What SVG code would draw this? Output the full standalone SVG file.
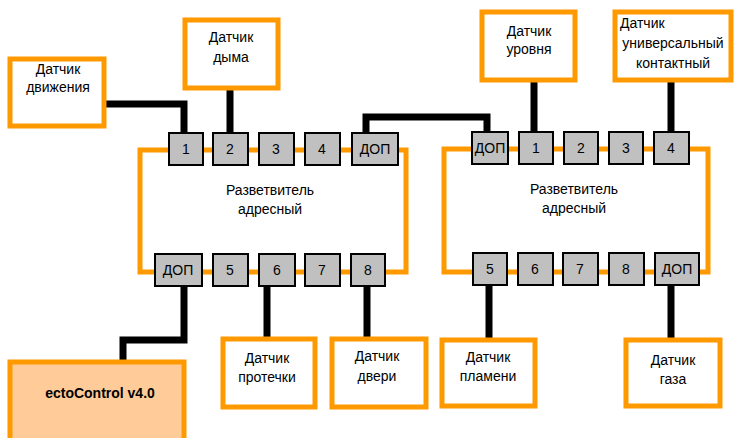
<svg xmlns="http://www.w3.org/2000/svg" width="734" height="438" viewBox="0 0 734 438">
<style>
.sensor{fill:#fff;stroke:#FF9900;stroke-width:5}
.ecto{fill:#FFCC99;stroke:#FF9900;stroke-width:5}
.bus{fill:none;stroke:#FF9900;stroke-width:5}
.port{fill:#C0C0C0;stroke:#000;stroke-width:2}
.wire{fill:none;stroke:#000;stroke-width:7;stroke-linejoin:miter}
text{font-family:"Liberation Sans","Open Sans",sans-serif;font-size:14px;fill:#000;text-anchor:middle}
.b{font-weight:bold;font-size:14px}
</style>
<rect width="734" height="438" fill="#fff"/>
<g id="splitter-left">
<rect class="bus" x="140" y="150" width="266" height="122"/>
<text x="270" y="195">Разветвитель</text>
<text x="270" y="214">адресный</text>
<rect class="port" x="169" y="133" width="34" height="32"/><text x="186" y="154">1</text>
<rect class="port" x="213" y="133" width="35" height="32"/><text x="230" y="154">2</text>
<rect class="port" x="259" y="133" width="35" height="32"/><text x="276" y="154">3</text>
<rect class="port" x="305" y="133" width="35" height="32"/><text x="322" y="154">4</text>
<rect class="port" x="352" y="133" width="46" height="32"/><text x="375" y="154">ДОП</text>
<rect class="port" x="155" y="254" width="47" height="32"/><text x="178" y="275">ДОП</text>
<rect class="port" x="213" y="254" width="35" height="32"/><text x="230" y="275">5</text>
<rect class="port" x="259" y="254" width="36" height="32"/><text x="277" y="275">6</text>
<rect class="port" x="305" y="254" width="35" height="32"/><text x="322" y="275">7</text>
<rect class="port" x="351" y="254" width="34" height="32"/><text x="368" y="275">8</text>
</g>
<g id="splitter-right">
<rect class="bus" x="444" y="149" width="264" height="123"/>
<text x="574" y="194">Разветвитель</text>
<text x="574" y="213">адресный</text>
<rect class="port" x="472" y="132" width="36" height="32"/><text x="490" y="153">ДОП</text>
<rect class="port" x="519" y="132" width="34" height="32"/><text x="536" y="153">1</text>
<rect class="port" x="564" y="132" width="34" height="32"/><text x="581" y="153">2</text>
<rect class="port" x="609" y="132" width="34" height="32"/><text x="626" y="153">3</text>
<rect class="port" x="654" y="132" width="35" height="32"/><text x="671" y="153">4</text>
<rect class="port" x="473" y="253" width="34" height="32"/><text x="490" y="274">5</text>
<rect class="port" x="518" y="253" width="35" height="32"/><text x="535" y="274">6</text>
<rect class="port" x="563" y="253" width="35" height="32"/><text x="580" y="274">7</text>
<rect class="port" x="609" y="253" width="35" height="32"/><text x="626" y="274">8</text>
<rect class="port" x="655" y="253" width="44" height="32"/><text x="677" y="274">ДОП</text>
</g>
<g id="connectors">
<path class="wire" d="M104,104 H184 V133"/>
<path class="wire" d="M230,88 V133"/>
<path class="wire" d="M366,133 V117 H487 V132"/>
<path class="wire" d="M534,80 V132"/>
<path class="wire" d="M671,80 V132"/>
<path class="wire" d="M489,285 V340"/>
<path class="wire" d="M671,285 V340"/>
<path class="wire" d="M267,286 V339"/>
<path class="wire" d="M367,286 V339"/>
<path class="wire" d="M184,286 V340 H123 V362"/>
</g>
<g id="motion"><rect class="sensor" x="10" y="59" width="94" height="67"/><text x="58" y="74">Датчик</text><text x="58" y="92">движения</text></g>
<g id="smoke"><rect class="sensor" x="185" y="20" width="93" height="68"/><text x="231" y="42">Датчик</text><text x="231" y="62">дыма</text></g>
<g id="level"><rect class="sensor" x="482" y="12" width="93" height="68"/><text x="529" y="36">Датчик</text><text x="529" y="54">уровня</text></g>
<g id="universal"><rect class="sensor" x="615" y="12" width="116" height="68"/><text x="620" y="28" style="text-anchor:start">Датчик</text><text x="673" y="48">универсальный</text><text x="673" y="68">контактный</text></g>
<g id="flame"><rect class="sensor" x="442" y="340" width="93" height="66"/><text x="488" y="362">Датчик</text><text x="488" y="381">пламени</text></g>
<g id="gas"><rect class="sensor" x="626" y="340" width="94" height="66"/><text x="673" y="365">Датчик</text><text x="673" y="384">газа</text></g>
<g id="leak"><rect class="sensor" x="223" y="339" width="92" height="68"/><text x="267" y="363">Датчик</text><text x="267" y="382">протечки</text></g>
<g id="door"><rect class="sensor" x="332" y="339" width="94" height="68"/><text x="377" y="361">Датчик</text><text x="377" y="381">двери</text></g>
<g id="ectocontrol"><rect class="ecto" x="10" y="362" width="174" height="90"/><text class="b" x="100" y="398">ectoControl v4.0</text></g>
</svg>
